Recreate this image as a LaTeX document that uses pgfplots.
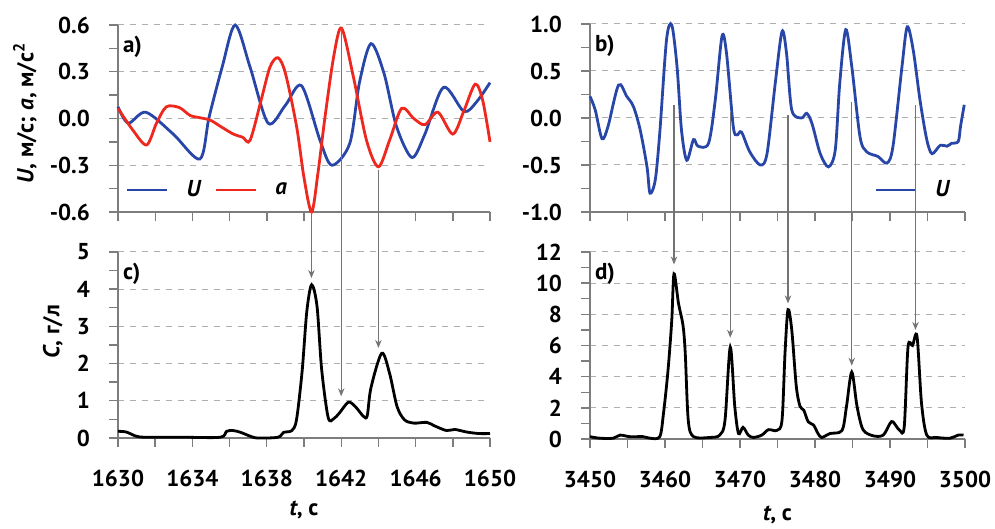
\documentclass[border=0pt]{standalone}
\usepackage{fontspec}
\setmainfont{PT Sans}
\usepackage{pgfplots}
\pgfplotsset{compat=1.18}
\usetikzlibrary{arrows.meta}
\definecolor{ublue}{RGB}{40,70,168}
\definecolor{ared}{RGB}{238,40,30}
\definecolor{axgray}{RGB}{125,125,125}
\definecolor{gridgray}{RGB}{175,175,175}
\definecolor{arrgray}{RGB}{115,115,115}
\newcommand{\fs}{\fontsize{11.5}{13}\selectfont\bfseries}

\tikzset{
  plab/.style={anchor=north west, font=\fs, xshift=-1pt, yshift=-2pt},
  arr/.style={draw=arrgray, line width=0.6pt, -{Stealth[length=4pt,width=3.2pt]}},
}
\pgfplotsset{
  panel/.style={
    scale only axis, anchor=south west,
    axis lines=left,
    axis line style={-, draw=axgray, line width=0.7pt},
    tick style={draw=axgray, line width=0.7pt},
    tick align=outside,
    major tick length=4.5pt, minor tick length=4.5pt,
    ymajorgrids,
    major grid style={draw=gridgray, dash pattern=on 3pt off 3pt, line width=0.5pt},
    tick label style={font=\fs},
    label style={font=\fs},
    /pgf/number format/assume math mode=true,
    /pgf/number format/1000 sep={},
    yticklabel style={xshift=-6pt},
    xticklabel style={yshift=-8pt},
    clip=false,
  },
  onedec/.style={yticklabel style={/pgf/number format/.cd, fixed, fixed zerofill, precision=1}},
  leg/.style={legend style={draw=none, fill=none, font=\fs, inner sep=0pt,
      /tikz/every odd column/.append style={column sep=7pt},
      /tikz/every even column/.append style={column sep=4.5pt}},
    legend image code/.code={\draw[##1] (0pt,0pt) -- (20pt,0pt);}},
}

\begin{document}
\begin{tikzpicture}

% a) velocity and acceleration
\begin{axis}[panel, onedec, leg, at={(59pt,158.5pt)}, width=186pt, height=93.5pt,
  xmin=1630, xmax=1650, ymin=-0.6, ymax=0.6,
  xtick={1630,1632,...,1650}, xticklabels={},
  ytick={-0.6,-0.3,0,0.3,0.6}, minor ytick={-0.45,-0.15,0.15,0.45},
  ylabel={\textit{U}, м/с; \textit{a}, м/с\textsuperscript{2}},
  ylabel style={at={(axis description cs:-0.25,0.53)}, anchor=center},
  legend columns=2,
  legend style={at={(axis description cs:0.02,0.118)}, anchor=west},
]
\addplot[ublue, line width=1.4pt, smooth] coordinates {
(1630,0.075) (1630.55,-0.03) (1631.5,0.04) (1632.97,-0.10) (1634.4,-0.26)
(1634.9,0.01) (1635.6,0.33) (1636.3,0.60) (1637.1,0.33) (1638.07,-0.03)
(1639.0,0.085) (1639.87,0.21) (1640.86,-0.14) (1641.5,-0.30) (1642.46,-0.16)
(1642.98,0.23) (1643.6,0.48) (1644.3,0.29) (1644.97,-0.05) (1645.8,-0.25)
(1646.5,-0.10) (1647.5,0.20) (1648.6,0.045) (1649.3,0.11) (1650,0.23)};
\addlegendentry{\textit{U}}
\addplot[ared, line width=1.4pt, smooth] coordinates {
(1630,0.065) (1630.8,-0.075) (1631.54,-0.17) (1632.07,-0.03) (1632.6,0.075)
(1633.3,0.07) (1633.87,0.02) (1634.4,0.005) (1634.95,-0.01) (1635.5,-0.05)
(1636.2,-0.10) (1636.7,-0.12) (1637.1,-0.14) (1637.7,0.12) (1638.17,0.33)
(1638.6,0.39) (1639.0,0.29) (1639.6,-0.05) (1640.0,-0.38) (1640.41,-0.60)
(1640.75,-0.35) (1641.13,0.01) (1641.6,0.40) (1642.02,0.58) (1642.65,0.27)
(1643.36,-0.14) (1644.0,-0.31) (1644.6,-0.14) (1645.25,0.065) (1645.9,0.0)
(1646.5,-0.04) (1647.2,0.04) (1648.0,-0.10) (1648.6,0.05) (1649.2,0.22)
(1649.6,0.12) (1650,-0.15)};
\addlegendentry{\textit{a}}
\node[plab] at (rel axis cs:0,1) {a)};
\coordinate (p1) at (axis cs:1640.4,-0.6);
\coordinate (p2) at (axis cs:1642.0,0.58);
\coordinate (p3) at (axis cs:1644.0,-0.33);
\end{axis}

% c) concentration
\begin{axis}[panel, at={(59pt,45.5pt)}, width=186pt, height=93pt,
  xmin=1630, xmax=1650, ymin=0, ymax=5,
  xtick={1630,1634,...,1650}, minor xtick={1632,1636,...,1648},
  ytick={0,1,...,5}, minor ytick={0.5,1.5,...,4.5},
  ylabel={\textit{C}, г/л},
  ylabel style={at={(axis description cs:-0.175,0.57)}, anchor=center},
  xlabel={\textit{t}, с},
  xlabel style={at={(axis description cs:0.5,-0.387)}, anchor=center},
]
\addplot[black, line width=1.4pt, smooth] coordinates {
(1630,0.18) (1630.45,0.16) (1630.97,0.05) (1631.5,0.02) (1633.5,0.02)
(1635.5,0.02) (1635.84,0.18) (1636.2,0.2) (1636.6,0.15) (1637.1,0.05)
(1637.5,0.0) (1638.6,0.02) (1638.9,0.15) (1639.35,0.2) (1639.6,0.5)
(1639.9,1.8) (1640.15,3.4) (1640.41,4.12) (1640.7,3.54) (1640.95,1.84)
(1641.3,0.55) (1641.6,0.52) (1641.9,0.67) (1642.38,0.96) (1642.75,0.85)
(1643.2,0.58) (1643.4,0.6) (1643.6,1.35) (1644.18,2.28) (1644.6,1.74)
(1645.0,0.85) (1645.4,0.49) (1645.9,0.4) (1646.6,0.42) (1647.0,0.33)
(1647.66,0.2) (1648.1,0.23) (1648.75,0.16) (1649.4,0.12) (1650,0.12)};
\node[plab] at (rel axis cs:0,1) {c)};
\coordinate (q1) at (axis cs:1640.4,4.3);
\coordinate (q2) at (axis cs:1642.0,1.12);
\coordinate (q3) at (axis cs:1644.0,2.42);
\end{axis}

% b) velocity
\begin{axis}[panel, onedec, leg, at={(295pt,158.5pt)}, width=187.5pt, height=94pt,
  xmin=3450, xmax=3500, ymin=-1, ymax=1,
  xtick={3450,3455,...,3500}, xticklabels={},
  ytick={-1,-0.5,0,0.5,1}, minor ytick={-0.75,-0.25,0.25,0.75},
  legend style={at={(axis description cs:0.973,0.117)}, anchor=east},
]
\addplot[ublue, line width=1.4pt, smooth] coordinates {
(3450,0.23) (3450.7,0.085) (3451.6,-0.22) (3452.4,-0.09) (3453.8,0.35)
(3454.9,0.23) (3455.8,0.12) (3456.7,-0.13) (3457.6,-0.52) (3458.0,-0.8)
(3458.7,-0.66) (3459.3,-0.16) (3460.2,0.83) (3460.9,0.99) (3461.6,0.55)
(3462.2,-0.13) (3462.9,-0.45) (3463.8,-0.23) (3464.4,-0.3) (3465.8,-0.27)
(3466.7,0.19) (3467.6,0.87) (3468.2,0.69) (3469.1,-0.09) (3469.6,-0.18)
(3470.2,-0.15) (3471.3,-0.36) (3472.7,-0.5) (3473.6,-0.38) (3474.7,0.37)
(3475.6,0.92) (3476.2,0.69) (3476.9,0.085) (3478.2,0.0) (3478.9,0.05)
(3479.6,-0.06) (3480.7,-0.38) (3481.8,-0.52) (3482.7,-0.34) (3483.3,0.37)
(3484.1,0.94) (3484.9,0.55) (3486.0,-0.2) (3486.9,-0.36) (3488.4,-0.41)
(3489.6,-0.48) (3490.4,-0.3) (3491.6,0.55) (3492.3,0.97) (3493.1,0.72)
(3494.0,0.19) (3494.9,-0.23) (3495.6,-0.38) (3496.7,-0.29) (3497.6,-0.3)
(3498.2,-0.27) (3499.1,-0.25) (3499.4,-0.09) (3499.9,0.14)};
\addlegendentry{\textit{U}}
\node[plab] at (rel axis cs:0,1) {b)};
\coordinate (r1) at (axis cs:3461.2,0.14);
\coordinate (r2) at (axis cs:3468.7,0.06);
\coordinate (r3) at (axis cs:3476.4,0.03);
\coordinate (r4) at (axis cs:3484.9,0.17);
\coordinate (r5) at (axis cs:3493.4,0.14);
\end{axis}

% d) concentration
\begin{axis}[panel, at={(295pt,45pt)}, width=187.5pt, height=93.5pt,
  xmin=3450, xmax=3500, ymin=0, ymax=12,
  xtick={3450,3460,...,3500}, minor xtick={3455,3465,...,3495},
  ytick={0,2,...,12}, minor ytick={1,3,...,11},
  xlabel={\textit{t}, с},
  xlabel style={at={(axis description cs:0.5,-0.406)}, anchor=center},
]
\addplot[black, line width=1.4pt, smooth] coordinates {
(3450,0.15) (3451.3,0.05) (3453.1,0.05) (3454,0.25) (3455.3,0.15)
(3457.1,0.15) (3458,0.05) (3459.3,0.15) (3459.8,1.65) (3460.4,4.4)
(3460.9,7.6) (3461.2,10.6) (3461.8,8.7) (3462.4,7.3) (3462.7,5.5)
(3463.1,1.2) (3463.8,0.15) (3466,0.1) (3467.3,0.25) (3468.0,1.2)
(3468.7,5.9) (3469.3,2.1) (3469.8,0.35) (3470.4,0.75) (3471.1,0.25)
(3471.8,0.1) (3472.9,0.25) (3473.8,0.6) (3474.9,0.55) (3475.6,1.2)
(3476.0,5.5) (3476.4,8.3) (3476.9,7.0) (3477.5,3.4) (3478.0,2.1)
(3478.5,1.85) (3479.1,1.1) (3479.8,0.9) (3480.4,0.35) (3480.9,0.1)
(3482,0.35) (3483.6,0.55) (3484.2,2.1) (3484.9,4.3) (3485.6,2.1)
(3486.4,0.6) (3487.8,0.2) (3489.1,0.25) (3490.0,1.0) (3490.4,1.1)
(3491.3,0.55) (3491.9,0.8) (3492.4,5.9) (3493.0,6.0) (3493.6,6.6)
(3494.2,2.3) (3494.9,0.25) (3496.2,0.1) (3498.0,0.05) (3499.1,0.25)
(3499.8,0.25)};
\node[plab] at (rel axis cs:0,1) {d)};
\coordinate (s1) at (axis cs:3461.2,11.2);
\coordinate (s2) at (axis cs:3468.7,6.5);
\coordinate (s3) at (axis cs:3476.4,8.7);
\coordinate (s4) at (axis cs:3484.9,4.7);
\coordinate (s5) at (axis cs:3493.4,7.0);
\end{axis}

\foreach \a/\b in {p1/q1,p2/q2,p3/q3,r1/s1,r2/s2,r3/s3,r4/s4,r5/s5}
  \draw[arr] (\a) -- (\b);

\pgfresetboundingbox
\path[use as bounding box] (0,0) rectangle (497.5pt,264.5pt);
\end{tikzpicture}
\end{document}
